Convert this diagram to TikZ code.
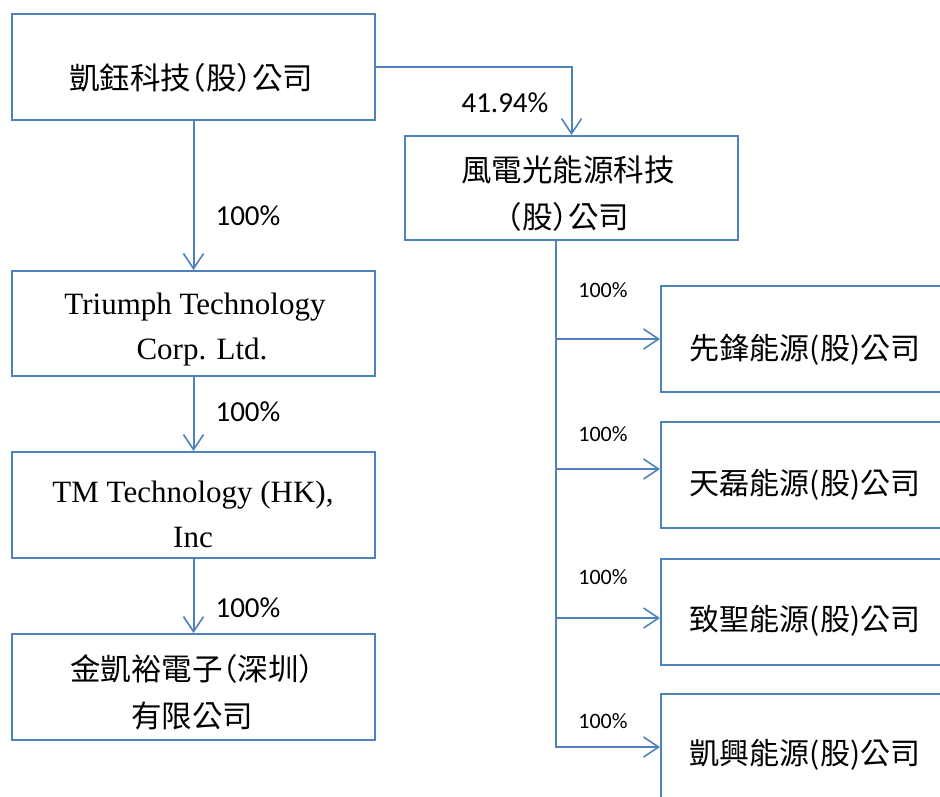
\documentclass[tikz,border=0pt]{standalone}
\usepackage{fontspec}
\setmainfont{Liberation Serif}
\newfontfamily\cjkfont[RawFeature={+halt}]{Noto Sans CJK TC}
\newfontfamily\cjkplain{Noto Sans CJK TC}
\newfontfamily\pctfont{Carlito}
\usetikzlibrary{arrows.meta,calc}
\definecolor{lineblue}{RGB}{79,129,189}
\begin{document}
\begin{tikzpicture}[x=1pt,y=-1pt,
  box/.style={draw=lineblue,line width=2pt,rectangle,inner sep=0pt},
  conn/.style={draw=lineblue,line width=2pt},
  arr/.style={conn,-{Straight Barb[length=15pt,width=20pt,line width=1.6pt]}},
  cjk/.style={font=\cjkfont\fontsize{30.5}{47}\selectfont,align=center,inner sep=0pt},
  cjkr/.style={font=\cjkplain\fontsize{30}{47}\selectfont,align=center,inner sep=0pt},
  eng/.style={font=\fontsize{31}{45}\selectfont,align=center,inner sep=0pt},
  pctbig/.style={font=\pctfont\fontsize{29}{30}\selectfont,inner sep=0pt},
  pctsmall/.style={font=\pctfont\fontsize{22}{24}\selectfont,inner sep=0pt}]
\path[use as bounding box] (0,0) rectangle (940,796);
\clip (0,0) rectangle (940,796);

% boxes
\node[box,minimum width=363pt,minimum height=106pt] (b1) at (193.5,67) {};
\node[box,minimum width=333pt,minimum height=104pt] (b2) at (571.5,188) {};
\node[box,minimum width=363pt,minimum height=105pt] (b3) at (193.5,323.5) {};
\node[box,minimum width=363pt,minimum height=106pt] (b4) at (193.5,505) {};
\node[box,minimum width=363pt,minimum height=106pt] (b5) at (193.5,687) {};
\node[box,minimum width=290pt,minimum height=106pt] (b6) at (806,339) {};
\node[box,minimum width=290pt,minimum height=106pt] (b7) at (806,475) {};
\node[box,minimum width=290pt,minimum height=106pt] (b8) at (806,612) {};
\node[box,minimum width=290pt,minimum height=106pt] (b9) at (806,747) {};

% texts
\node[cjk] (t1) at (191,78) {凱鈺科技（股）公司};
\node[cjk] (t2) at (568,193.5) {風電光能源科技\\（股）公司};
\begin{scope}
\clip (12,271) rectangle (375,366);
\node[eng] (t3) at (195,330) {Triumph Technology\\\hspace*{14pt}Corp. Ltd.};
\end{scope}
\node[eng] (t4) at (193,514) {TM Technology (HK),\\Inc};
\node[cjk] (t5) at (192,692) {金凱裕電子（深圳）\\有限公司};
\node[cjkr] (t6) at (805,350) {先鋒能源(股)公司};
\node[cjkr] (t7) at (805,485) {天磊能源(股)公司};
\node[cjkr] (t8) at (805,621) {致聖能源(股)公司};
\node[cjkr] (t9) at (805,755) {凱興能源(股)公司};

% connectors
\draw[arr] (b1.east) -| (b2.north);
\draw[arr] (b1.south) -- (b3.north);
\draw[arr] (b3.south) -- (b4.north);
\draw[arr] (b4.south) -- (b5.north);
\coordinate (trunk) at (556,240);
\coordinate (e7) at ($(b7.west)+(0,-6)$);
\coordinate (e8) at ($(b8.west)+(0,6)$);
\draw[arr] (trunk) |- (b9.west);
\draw[arr] (trunk |- b6.west) -- (b6.west);
\draw[arr] (trunk |- e7) -- (e7);
\draw[arr] (trunk |- e8) -- (e8);

% labels
\node[pctbig] (l0) at (505,103) {41.94\%};
\node[pctbig] (l1) at (248,216) {100\%};
\node[pctbig] (l2) at (248,412) {100\%};
\node[pctbig] (l3) at (248,608) {100\%};
\node[pctsmall] (l4) at (603,290) {100\%};
\node[pctsmall] (l5) at (603,434) {100\%};
\node[pctsmall] (l6) at (603,577) {100\%};
\node[pctsmall] (l7) at (603,721) {100\%};
\end{tikzpicture}
\end{document}
